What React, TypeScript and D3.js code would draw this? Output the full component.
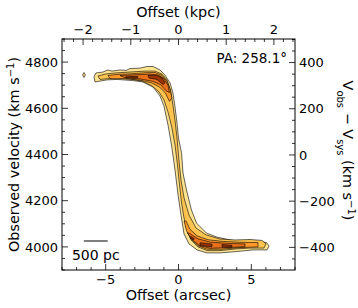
import * as d3 from 'd3';

// offset (arcsec), observed velocity (km/s) pairs for each filled contour level
const level1Band: [number, number][] = [
  [-5.80, 4736], [-5.67, 4753], [-5.19, 4757], [-4.85, 4766], [-4.57, 4761], [-4.02, 4766],
  [-3.60, 4764], [-3.33, 4772], [-2.64, 4774], [-2.16, 4781], [-1.75, 4781], [-1.27, 4766], [-0.93, 4744],
  [-0.58, 4710], [-0.38, 4666], [-0.24, 4606], [-0.10, 4536], [0.00, 4471], [0.21, 4406],
  [0.31, 4320], [0.55, 4246], [0.89, 4160], [1.24, 4103], [1.92, 4060], [2.61, 4043],
  [3.54, 4030], [4.22, 4023], [4.91, 4028], [5.60, 4023], [6.04, 4019], [6.22, 4004],
  [6.08, 3987], [5.12, 3987], [4.02, 3980], [2.85, 3974], [1.96, 3974], [1.27, 3987],
  [0.72, 4013], [0.38, 4056], [0.17, 4138], [-0.03, 4225], [-0.24, 4333], [-0.48, 4441],
  [-0.72, 4528], [-1.00, 4610], [-1.27, 4653], [-1.75, 4692], [-2.44, 4714], [-3.13, 4720],
  [-4.22, 4725], [-4.91, 4723], [-5.73, 4714],
];
const level1Blob: [number, number][] = [
  [-6.59, 4744], [-6.49, 4755], [-6.39, 4744], [-6.49, 4733],
];
const level2Band: [number, number][] = [
  [-5.53, 4740], [-5.05, 4748], [-4.36, 4753], [-3.33, 4757], [-2.30, 4761], [-1.61, 4761],
  [-1.13, 4748], [-0.79, 4723], [-0.55, 4679], [-0.38, 4614], [-0.24, 4549], [-0.10, 4471],
  [0.03, 4376], [0.17, 4290], [0.38, 4212], [0.72, 4138], [1.20, 4082], [1.89, 4052],
  [2.85, 4034], [3.88, 4030], [4.91, 4032], [5.73, 4028], [6.01, 4013], [5.87, 3995],
  [4.91, 3995], [3.88, 3991], [2.85, 3984], [1.96, 3984], [1.34, 4000], [0.86, 4030],
  [0.58, 4073], [0.38, 4125], [0.21, 4190], [0.07, 4268], [-0.07, 4355], [-0.24, 4441],
  [-0.45, 4515], [-0.72, 4584], [-1.00, 4636], [-1.34, 4671], [-1.82, 4697], [-2.51, 4718],
  [-3.33, 4727], [-4.36, 4731], [-5.39, 4725],
];
const level3Top: [number, number][] = [
  [-4.84, 4742], [-4.15, 4747], [-3.33, 4749], [-2.30, 4754], [-1.61, 4755], [-1.13, 4742],
  [-0.79, 4718], [-0.58, 4683], [-0.45, 4645], [-0.62, 4630], [-0.90, 4666], [-1.30, 4692],
  [-1.85, 4710], [-2.64, 4722], [-3.67, 4728], [-4.70, 4728],
];
const level3Bottom: [number, number][] = [
  [0.52, 4112], [0.79, 4076], [1.27, 4048], [2.03, 4031], [2.99, 4024], [4.22, 4020],
  [5.46, 4019], [5.46, 4000], [4.22, 3997], [2.99, 3990], [1.96, 3990], [1.34, 4005],
  [0.86, 4036], [0.55, 4070], [0.38, 4112],
];
const level4Top: [number, number][] = [
  [-4.02, 4742], [-2.99, 4745], [-1.96, 4748], [-1.41, 4744], [-1.00, 4729], [-0.72, 4699],
  [-0.62, 4668], [-0.86, 4676], [-1.22, 4702], [-1.78, 4717], [-2.64, 4727], [-3.67, 4732],
];
const level4Bottom: [number, number][] = [
  [0.72, 4060], [1.34, 4035], [2.16, 4021], [3.40, 4015], [4.57, 4013], [4.57, 4001],
  [3.40, 3997], [2.16, 3994], [1.41, 4007], [0.93, 4031], [0.62, 4060],
];
const level5Spots: [number, number][][] = [
  [[-2.09, 4742], [-1.55, 4744], [-1.13, 4732], [-0.93, 4710], [-1.06, 4703], [-1.48, 4725], [-2.03, 4731]],
  [[-3.61, 4737], [-2.80, 4738], [-2.80, 4732], [-3.61, 4731]],
  [[1.48, 4018], [2.30, 4012], [2.30, 4001], [1.48, 4005]],
  [[2.99, 4010], [3.67, 4007], [3.67, 3999], [2.99, 3999]],
  [[0.85, 4045], [1.10, 4035], [1.00, 4030], [0.80, 4040]],
];

const levelColors = ['#fee391', '#fec44f', '#fe9929', '#e8701a', '#993404'];

const bottomTicks = [-5, 0, 5];
const topTicks = [-2, -1, 0, 1, 2];
const leftTicks = [4000, 4200, 4400, 4600, 4800];
const rightTicks = [-400, -200, 0, 200, 400];
const vSys = 4398;
const kpcPerArcsec = 0.3053;
const paLabel = 'PA: 258.1°';
const scaleBarKpc = 0.5;

const W = 358;
const H = 308;
const L = 62, R = 295, T = 39, B = 270;
const font = 'DejaVu Sans, sans-serif';

export default function App() {
  const x = d3.scaleLinear().domain([-8, 8]).range([L, R]);
  const xTop = d3.scaleLinear().domain([-8 * kpcPerArcsec, 8 * kpcPerArcsec]).range([L, R]);
  const y = d3.scaleLinear().domain([3900, 4900]).range([B, T]);
  const yRel = d3.scaleLinear().domain([3900 - vSys, 4900 - vSys]).range([B, T]);

  const line = d3.line<[number, number]>().x(d => x(d[0])).y(d => y(d[1]));
  const poly = (pts: [number, number][]) => line(pts) + 'Z';

  const layers: { pts: [number, number][]; c: string }[] = [
    { pts: level1Band, c: levelColors[0] },
    { pts: level1Blob, c: levelColors[0] },
    { pts: level2Band, c: levelColors[1] },
    { pts: level3Top, c: levelColors[2] },
    { pts: level3Bottom, c: levelColors[2] },
    { pts: level4Top, c: levelColors[3] },
    { pts: level4Bottom, c: levelColors[3] },
    ...level5Spots.map(p => ({ pts: p, c: levelColors[4] })),
  ];

  const minorBottom = d3.range(-8, 8.01, 1).filter(v => !bottomTicks.includes(v));
  const minorTop = d3.range(-2.4, 2.41, 0.2).map(v => +v.toFixed(1)).filter(v => !topTicks.includes(v));
  const minorLeft = d3.range(3900, 4901, 50).filter(v => !leftTicks.includes(v));
  const minorRight = d3.range(-500, 501, 50).filter(v => !rightTicks.includes(v) && yRel(v) >= T && yRel(v) <= B);

  const fmt = (v: number) => (v < 0 ? '\u2212' + Math.abs(v) : String(v));
  const maj = 6, mn = 3;

  const barX0 = x(-6.5);
  const barLen = xTop(scaleBarKpc) - xTop(0);

  return (
    <svg width={W} height={H} style={{ position: 'absolute', left: 0, top: 0, background: '#fff' }} fontFamily={font}>
      <defs>
        <clipPath id="plot"><rect x={L} y={T} width={R - L} height={B - T} /></clipPath>
      </defs>
      <g clipPath="url(#plot)">
        {layers.map((l, i) => (
          <path key={i} d={poly(l.pts)} fill={l.c} stroke="#000" strokeWidth={0.6} strokeLinejoin="round" />
        ))}
      </g>

      {/* ticks */}
      <g stroke="#000" strokeWidth={0.8}>
        {bottomTicks.map(v => <line key={'b' + v} x1={x(v)} x2={x(v)} y1={B} y2={B - maj} />)}
        {minorBottom.map(v => <line key={'bm' + v} x1={x(v)} x2={x(v)} y1={B} y2={B - mn} />)}
        {topTicks.map(v => <line key={'t' + v} x1={xTop(v)} x2={xTop(v)} y1={T} y2={T + maj} />)}
        {minorTop.map(v => <line key={'tm' + v} x1={xTop(v)} x2={xTop(v)} y1={T} y2={T + mn} />)}
        {leftTicks.map(v => <line key={'l' + v} x1={L} x2={L + maj} y1={y(v)} y2={y(v)} />)}
        {minorLeft.map(v => <line key={'lm' + v} x1={L} x2={L + mn} y1={y(v)} y2={y(v)} />)}
        {rightTicks.map(v => <line key={'r' + v} x1={R} x2={R - maj} y1={yRel(v)} y2={yRel(v)} />)}
        {minorRight.map(v => <line key={'rm' + v} x1={R} x2={R - mn} y1={yRel(v)} y2={yRel(v)} />)}
      </g>
      <rect x={L} y={T} width={R - L} height={B - T} fill="none" stroke="#000" strokeWidth={1} />

      {/* tick labels */}
      <g fontSize={13} fill="#000">
        {bottomTicks.map(v => <text key={'bl' + v} x={x(v)} y={B + 13.5} textAnchor="middle">{fmt(v)}</text>)}
        {topTicks.map(v => <text key={'tl' + v} x={xTop(v)} y={T - 5} textAnchor="middle">{fmt(v)}</text>)}
        {leftTicks.map(v => <text key={'ll' + v} x={L - 4} y={y(v) + 4.7} textAnchor="end">{fmt(v)}</text>)}
        {rightTicks.map(v => <text key={'rl' + v} x={R + 4} y={yRel(v) + 4.7} textAnchor="start">{fmt(v)}</text>)}
      </g>

      {/* axis labels */}
      <g fontSize={14.4} fill="#000">
        <text x={(L + R) / 2} y={300} textAnchor="middle">Offset (arcsec)</text>
        <text x={(L + R) / 2} y={17} textAnchor="middle">Offset (kpc)</text>
        <text transform={`translate(19,${(T + B) / 2}) rotate(-90)`} textAnchor="middle">
          Observed velocity (km s<tspan baselineShift="super" fontSize={10}>{'\u22121'}</tspan>)
        </text>
        <text transform={`translate(343,${(T + B) / 2 - 4}) rotate(90)`} textAnchor="middle">
          V<tspan baselineShift="sub" fontSize={10}>obs</tspan> {'\u2212'} V<tspan baselineShift="sub" fontSize={10}>sys</tspan> (km s<tspan baselineShift="super" fontSize={10}>{'\u22121'}</tspan>)
        </text>
      </g>

      <text x={287} y={63} textAnchor="end" fontSize={13.5}>{paLabel}</text>

      {/* scale bar */}
      <line x1={barX0} x2={barX0 + barLen} y1={241} y2={241} stroke="#000" strokeWidth={1} />
      <text x={barX0 + barLen / 2} y={260} textAnchor="middle" fontSize={14}>500 pc</text>
    </svg>
  );
}
